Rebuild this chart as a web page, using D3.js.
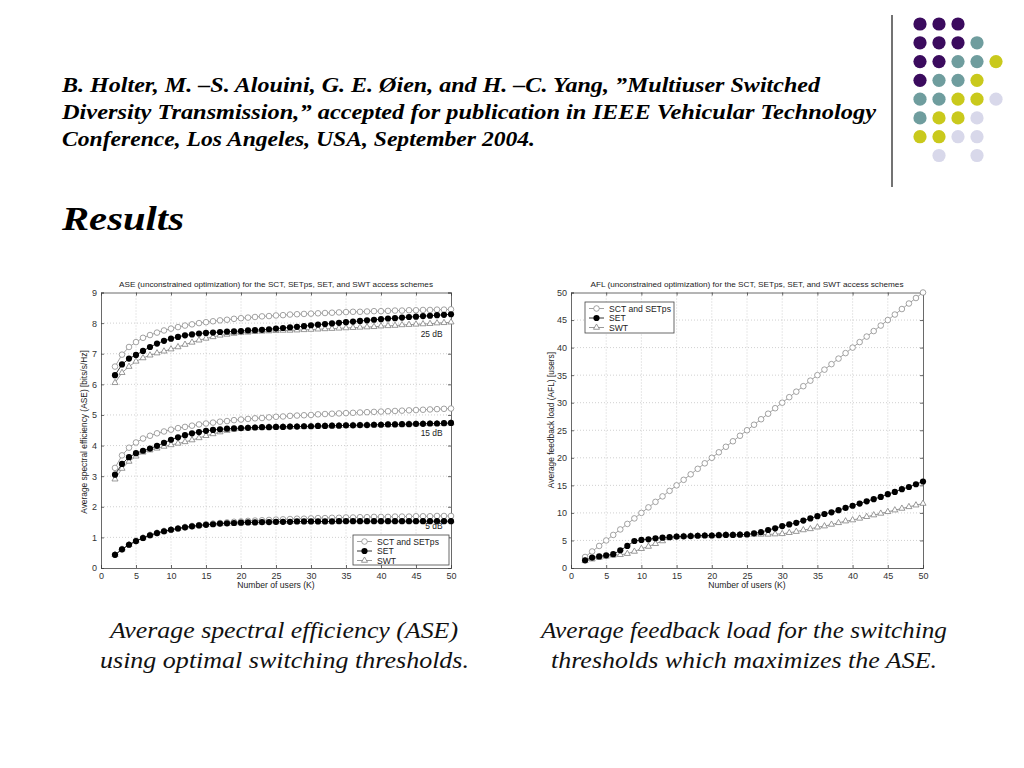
<!DOCTYPE html>
<html>
<head>
<meta charset="utf-8">
<script src="https://cdn.jsdelivr.net/npm/d3@7"></script>
<style>
  html, body { margin: 0; padding: 0; background: #fff; }
  svg { display: block; }
  .tick text { font-family: "Liberation Sans", Arial, sans-serif; font-size: 9px; fill: #333; }
</style>
</head>
<body>
<svg id="slide" width="1024" height="768"></svg>
<script>
// ---------------- DATA ----------------
const users = [2,3,4,5,6,7,8,9,10,11,
  12,13,14,15,16,17,18,19,20,21,
  22,23,24,25,26,27,28,29,30,31,
  32,33,34,35,36,37,38,39,40,41,
  42,43,44,45,46,47,48,49,50];

const xTickValues = [0,5,10,15,20,25,30,35,40,45,50];
const aseTickValues = [0,1,2,3,4,5,6,7,8,9];
const aflTickValues = [0,5,10,15,20,25,30,35,40,45,50];

const seriesNames = ["SCT and SETps", "SET", "SWT"];
const snrLabels = ["25 dB", "15 dB", "5 dB"];

// ASE, 25 dB
const ase25SCT = [6.58,6.97,7.22,7.38,7.52,7.61,7.69,7.76,7.82,7.87,
  7.92,7.96,8.00,8.03,8.06,8.09,8.11,8.14,8.16,8.18,
  8.20,8.22,8.23,8.25,8.26,8.28,8.29,8.30,8.31,8.32,
  8.33,8.34,8.35,8.36,8.37,8.37,8.38,8.39,8.39,8.40,
  8.41,8.41,8.42,8.42,8.43,8.43,8.44,8.44,8.45];
const ase25SET = [6.30,6.65,6.84,6.96,7.09,7.22,7.33,7.42,7.49,7.55,
  7.60,7.63,7.66,7.68,7.69,7.71,7.72,7.73,7.74,7.76,
  7.77,7.78,7.80,7.82,7.84,7.86,7.88,7.90,7.93,7.95,
  7.97,7.99,8.01,8.03,8.05,8.07,8.09,8.11,8.13,8.15,
  8.16,8.18,8.20,8.21,8.23,8.24,8.26,8.27,8.29];
const ase25SWT = [6.05,6.38,6.58,6.75,6.86,6.95,7.02,7.08,7.15,7.22,
  7.30,7.37,7.44,7.50,7.55,7.60,7.63,7.66,7.69,7.70,
  7.72,7.73,7.74,7.75,7.76,7.76,7.77,7.78,7.79,7.80,
  7.81,7.82,7.83,7.84,7.85,7.86,7.87,7.88,7.90,7.91,
  7.92,7.94,7.95,7.96,7.97,7.98,8.00,8.01,8.03];

// ASE, 15 dB
const ase15SCT = [3.27,3.68,3.93,4.10,4.23,4.32,4.40,4.46,4.52,4.57,
  4.61,4.65,4.69,4.72,4.75,4.78,4.80,4.83,4.85,4.87,
  4.89,4.90,4.92,4.94,4.95,4.97,4.98,4.99,5.00,5.02,
  5.03,5.04,5.05,5.06,5.07,5.08,5.09,5.10,5.11,5.12,
  5.13,5.14,5.15,5.16,5.17,5.18,5.19,5.20,5.21];
const ase15SET = [3.05,3.40,3.62,3.75,3.83,3.90,3.99,4.09,4.19,4.27,
  4.34,4.40,4.44,4.48,4.51,4.53,4.55,4.56,4.57,4.58,
  4.59,4.60,4.60,4.61,4.61,4.62,4.62,4.63,4.63,4.64,
  4.64,4.65,4.65,4.66,4.66,4.67,4.67,4.68,4.68,4.69,
  4.69,4.70,4.70,4.71,4.71,4.72,4.72,4.73,4.74];
const ase15SWT = [2.90,3.25,3.48,3.65,3.78,3.85,3.91,3.97,4.02,4.07,
  4.12,4.18,4.25,4.32,4.38,4.44,4.49,4.53,4.55,4.57,
  4.58,4.59,4.60,4.60,4.61,4.61,4.62,4.62,4.63,4.63,
  4.64,4.64,4.65,4.65,4.66,4.66,4.67,4.67,4.68,4.68,
  4.69,4.69,4.70,4.70,4.71,4.71,4.72,4.72,4.73];

// ASE, 5 dB
const ase5SCT = [0.43,0.61,0.76,0.88,0.98,1.07,1.14,1.20,1.25,1.29,
  1.33,1.37,1.40,1.43,1.45,1.47,1.49,1.51,1.52,1.54,
  1.55,1.56,1.57,1.58,1.59,1.60,1.61,1.61,1.62,1.63,
  1.63,1.64,1.64,1.65,1.65,1.66,1.66,1.67,1.67,1.67,
  1.68,1.68,1.68,1.69,1.69,1.69,1.70,1.70,1.70];
const ase5SET = [0.43,0.61,0.76,0.88,0.98,1.07,1.14,1.20,1.25,1.29,
  1.33,1.36,1.39,1.41,1.43,1.45,1.46,1.47,1.48,1.49,
  1.49,1.50,1.50,1.51,1.51,1.51,1.52,1.52,1.52,1.52,
  1.52,1.52,1.53,1.53,1.53,1.53,1.53,1.53,1.53,1.53,
  1.53,1.53,1.53,1.53,1.53,1.53,1.53,1.53,1.53];
const ase5SWT = [0.43,0.61,0.76,0.88,0.98,1.07,1.14,1.20,1.25,1.29,
  1.33,1.36,1.39,1.41,1.43,1.44,1.45,1.46,1.47,1.48,
  1.49,1.49,1.50,1.50,1.51,1.51,1.51,1.52,1.52,1.52,
  1.52,1.52,1.52,1.53,1.53,1.53,1.53,1.53,1.53,1.53,
  1.53,1.53,1.53,1.53,1.53,1.53,1.53,1.53,1.53];

// AFL
const aflSCT = [2,3,4,5,6,7,8,9,10,11,
  12,13,14,15,16,17,18,19,20,21,
  22,23,24,25,26,27,28,29,30,31,
  32,33,34,35,36,37,38,39,40,41,
  42,43,44,45,46,47,48,49,50];
const aflSET = [1.4,1.9,2.1,2.3,2.5,3.2,4.0,4.9,5.1,5.2,
  5.4,5.5,5.6,5.7,5.75,5.8,5.85,5.9,5.9,5.95,
  6.0,6.0,6.05,6.1,6.3,6.5,6.9,7.2,7.6,7.9,
  8.2,8.6,9.0,9.4,9.8,10.1,10.5,10.9,11.3,11.7,
  12.1,12.5,12.9,13.4,13.8,14.3,14.7,15.2,15.7];
const aflSWT = [1.3,1.6,1.9,2.1,2.3,2.4,2.6,3.0,3.5,3.9,
  4.4,4.9,5.5,5.7,5.75,5.8,5.85,5.9,5.9,5.95,
  6.0,6.0,6.05,6.05,6.1,6.1,6.1,6.15,6.2,6.4,
  6.6,6.9,7.1,7.4,7.6,7.9,8.2,8.5,8.7,9.0,
  9.3,9.6,9.9,10.2,10.5,10.8,11.1,11.4,11.7];

// decorative dot matrix (row by row, one colour key per dot; "" = empty)
const dotRows = [
  ["P","P","P","",""],
  ["P","P","P","T",""],
  ["P","P","T","T","Y"],
  ["P","T","T","Y",""],
  ["T","T","Y","Y","L"],
  ["T","Y","Y","L",""],
  ["Y","Y","L","L",""],
  ["","L","","L",""]
];
const dotColors = { P: "#3b0b5e", T: "#6f9d9e", Y: "#c9c91c", L: "#d8d8ea" };

// ---------------- DRAWING ----------------
const svg = d3.select("#slide");
const serif = "'Liberation Serif', 'DejaVu Serif', serif";
const sans = "'Liberation Sans', Arial, sans-serif";

// header
const headerLines = [
  {t: "B. Holter, M. \u2013S. Alouini, G. E. \u00D8ien, and H. \u2013C. Yang, \u201DMultiuser Switched", y: 92, w: 758},
  {t: "Diversity Transmission,\u201D accepted for publication in IEEE Vehicular Technology", y: 119, w: 814},
  {t: "Conference, Los Angeles, USA, September 2004.", y: 146, w: 473}
];
svg.selectAll("text.hdr").data(headerLines).join("text")
  .attr("class", "hdr")
  .attr("x", 62).attr("y", d => d.y)
  .attr("textLength", d => d.w).attr("lengthAdjust", "spacingAndGlyphs")
  .style("font-family", serif).style("font-style", "italic").style("font-weight", "bold")
  .style("font-size", "20px").style("fill", "#000")
  .text(d => d.t);

svg.append("text").attr("x", 62).attr("y", 230)
  .attr("textLength", 122).attr("lengthAdjust", "spacingAndGlyphs")
  .style("font-family", serif).style("font-style", "italic").style("font-weight", "bold")
  .style("font-size", "33px").text("Results");

// vertical rule + dots
svg.append("line").attr("x1", 892).attr("x2", 892).attr("y1", 15).attr("y2", 187)
  .attr("stroke", "#444").attr("stroke-width", 1.5);
const dotX = d3.scalePoint().domain([0,1,2,3,4]).range([920, 996]);
const dotY = d3.scalePoint().domain(d3.range(dotRows.length)).range([24, 155.5]);
dotRows.forEach((row, ri) => {
  row.forEach((c, ci) => {
    if (!c) return;
    svg.append("circle").attr("cx", dotX(ci)).attr("cy", dotY(ri)).attr("r", 6.6)
      .attr("fill", dotColors[c]);
  });
});

// captions
const captions = [
  {t: "Average spectral efficiency (ASE)", x: 284, y: 638, w: 348},
  {t: "using optimal switching thresholds.", x: 284.5, y: 668, w: 369},
  {t: "Average feedback load for the switching", x: 744, y: 638, w: 406},
  {t: "thresholds which maximizes the ASE.", x: 744, y: 668, w: 386}
];
svg.selectAll("text.cap").data(captions).join("text")
  .attr("class", "cap")
  .attr("x", d => d.x - d.w / 2).attr("y", d => d.y)
  .attr("textLength", d => d.w).attr("lengthAdjust", "spacingAndGlyphs")
  .style("font-family", serif).style("font-style", "italic")
  .style("font-size", "24px").style("fill", "#111")
  .text(d => d.t);

const styles = {
  "SCT and SETps": {line: "#8c8c8c", marker: "circleOpen"},
  "SET": {line: "#000", marker: "circleFilled"},
  "SWT": {line: "#808080", marker: "triangle"}
};

function drawMarker(sel, type) {
  if (type === "circleOpen") {
    sel.append("circle").attr("r", 2.8).attr("fill", "#fff").attr("stroke", "#8c8c8c").attr("stroke-width", 0.8);
  } else if (type === "circleFilled") {
    sel.append("circle").attr("r", 3.1).attr("fill", "#000");
  } else {
    sel.append("path").attr("d", d3.symbol(d3.symbolTriangle).size(16)())
      .attr("fill", "#fff").attr("stroke", "#808080").attr("stroke-width", 0.8);
  }
}

function drawChart(cfg) {
  const g = svg.append("g");
  const x = d3.scaleLinear().domain([0, 50]).range([cfg.x0, cfg.x1]);
  const y = d3.scaleLinear().domain([0, cfg.ymax]).range([cfg.y1, cfg.y0]);

  // grid
  g.append("g").selectAll("line").data(cfg.xTicks.slice(1, -1)).join("line")
    .attr("x1", d => x(d)).attr("x2", d => x(d)).attr("y1", cfg.y0).attr("y2", cfg.y1)
    .attr("stroke", "#c4c4c4").attr("stroke-width", 0.8).attr("stroke-dasharray", "1,2");
  g.append("g").selectAll("line").data(cfg.yTicks.slice(1, -1)).join("line")
    .attr("y1", d => y(d)).attr("y2", d => y(d)).attr("x1", cfg.x0).attr("x2", cfg.x1)
    .attr("stroke", "#c4c4c4").attr("stroke-width", 0.8).attr("stroke-dasharray", "1,2");

  // axes (inward ticks, all 4 sides)
  const axB = g.append("g").attr("transform", `translate(0,${cfg.y1})`)
    .call(d3.axisBottom(x).tickValues(cfg.xTicks).tickSize(-3).tickPadding(4).tickFormat(d3.format("d")));
  const axT = g.append("g").attr("transform", `translate(0,${cfg.y0})`)
    .call(d3.axisTop(x).tickValues(cfg.xTicks).tickSize(-3).tickFormat(""));
  const axL = g.append("g").attr("transform", `translate(${cfg.x0},0)`)
    .call(d3.axisLeft(y).tickValues(cfg.yTicks).tickSize(-3).tickPadding(4).tickFormat(d3.format("d")));
  const axR = g.append("g").attr("transform", `translate(${cfg.x1},0)`)
    .call(d3.axisRight(y).tickValues(cfg.yTicks).tickSize(-3).tickFormat(""));
  [axB, axT, axL, axR].forEach(a => {
    a.select(".domain").attr("stroke", "#444").attr("stroke-width", 0.8);
    a.selectAll(".tick line").attr("stroke", "#444").attr("stroke-width", 0.8);
  });
  axB.selectAll(".tick text").attr("dy", "0.75em");

  // series
  const line = d3.line().x(d => x(d.k)).y(d => y(d.v));
  cfg.series.forEach(s => {
    const pts = users.map((k, i) => ({k, v: s.values[i]}));
    const st = styles[s.name];
    g.append("path").datum(pts).attr("d", line)
      .attr("fill", "none").attr("stroke", st.line).attr("stroke-width", 0.8);
    const m = g.append("g").selectAll("g").data(pts).join("g")
      .attr("transform", d => `translate(${x(d.k)},${y(d.v)})`);
    drawMarker(m, st.marker);
  });

  // title
  g.append("text").attr("x", (cfg.x0 + cfg.x1) / 2 - cfg.titleW / 2 + cfg.titleDx).attr("y", 287)
    .attr("textLength", cfg.titleW).attr("lengthAdjust", "spacingAndGlyphs")
    .style("font-family", sans).style("font-size", "8px").style("fill", "#222")
    .text(cfg.title);
  // x label
  g.append("text").attr("x", (cfg.x0 + cfg.x1) / 2).attr("y", 588).attr("text-anchor", "middle")
    .style("font-family", sans).style("font-size", "8.6px").style("fill", "#222")
    .text("Number of users (K)");
  // y label
  g.append("text").attr("transform", `translate(${cfg.ylabX},${cfg.ylabY}) rotate(-90)`)
    .attr("text-anchor", "middle")
    .style("font-family", sans).style("font-size", "8.4px").style("fill", "#222")
    .text(cfg.ylabel);

  // legend
  const L = cfg.legend;
  const lg = g.append("g");
  lg.append("rect").attr("x", L.x).attr("y", L.y).attr("width", L.w).attr("height", L.h)
    .attr("fill", "#fff").attr("stroke", "#444").attr("stroke-width", 0.8);
  seriesNames.forEach((nm, i) => {
    const cy = L.y + 6.5 + i * 9.5;
    const st = styles[nm];
    lg.append("line").attr("x1", L.x + 4).attr("x2", L.x + 19).attr("y1", cy).attr("y2", cy)
      .attr("stroke", st.line).attr("stroke-width", 0.8);
    drawMarker(lg.append("g").attr("transform", `translate(${L.x + 11.5},${cy})`), st.marker);
    lg.append("text").attr("x", L.x + 24).attr("y", cy + 3)
      .style("font-family", sans).style("font-size", "8.6px").style("fill", "#222").text(nm);
  });

  // annotations
  (cfg.notes || []).forEach(n => {
    g.append("text").attr("x", x(n.k)).attr("y", y(n.v)).attr("text-anchor", "end")
      .style("font-family", sans).style("font-size", "8.4px").style("fill", "#222").text(n.t);
  });
  return g;
}

// ASE chart
drawChart({
  x0: 101, x1: 451, y0: 292.5, y1: 568, ymax: 9,
  xTicks: xTickValues, yTicks: aseTickValues,
  title: "ASE (unconstrained optimization) for the SCT, SETps, SET, and SWT access schemes",
  titleW: 314, titleDx: 0,
  ylabel: "Average spectral efficiency (ASE) [bits/s/Hz]", ylabX: 87, ylabY: 432,
  series: [
    {name: "SWT", values: ase25SWT}, {name: "SCT and SETps", values: ase25SCT}, {name: "SET", values: ase25SET},
    {name: "SWT", values: ase15SWT}, {name: "SCT and SETps", values: ase15SCT}, {name: "SET", values: ase15SET},
    {name: "SWT", values: ase5SWT}, {name: "SCT and SETps", values: ase5SCT}, {name: "SET", values: ase5SET}
  ],
  legend: {x: 353, y: 535, w: 96, h: 30},
  notes: [
    {t: snrLabels[0], k: 48.8, v: 7.55},
    {t: snrLabels[1], k: 48.8, v: 4.32},
    {t: snrLabels[2], k: 48.8, v: 1.26}
  ]
});

// AFL chart
drawChart({
  x0: 571, x1: 923, y0: 292.5, y1: 568, ymax: 50,
  xTicks: xTickValues, yTicks: aflTickValues,
  title: "AFL (unconstrained optimization) for the SCT, SETps, SET, and SWT access schemes",
  titleW: 313, titleDx: 0,
  ylabel: "Average feedback load (AFL) [users]", ylabX: 554, ylabY: 420,
  series: [
    {name: "SCT and SETps", values: aflSCT}, {name: "SWT", values: aflSWT}, {name: "SET", values: aflSET}
  ],
  legend: {x: 585, y: 302, w: 89, h: 31}
});
</script>
</body>
</html>
